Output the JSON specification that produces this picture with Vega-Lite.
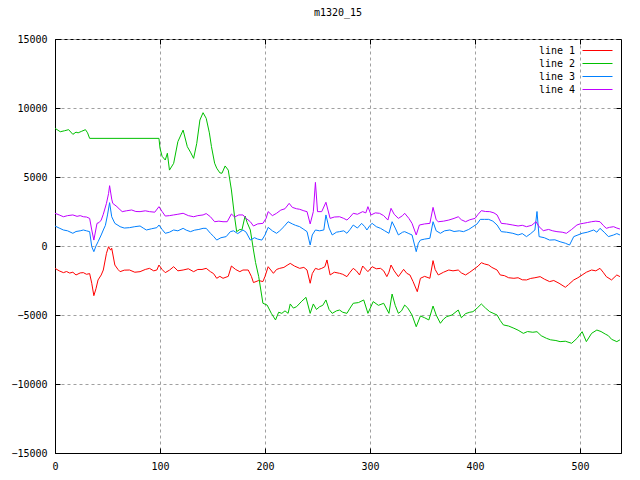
{
  "$schema": "https://vega.github.io/schema/vega-lite/v6.json",
  "width": 566,
  "height": 414,
  "autosize": {"type": "none"},
  "padding": {"left": 55, "top": 39, "right": 19, "bottom": 27},
  "background": "white",
  "title": {"text": "m1320_15", "fontSize": 10, "font": "DejaVu Sans Mono", "fontWeight": "normal", "color": "black", "offset": 16, "anchor": "middle"},
  "config": {
    "view": {"stroke": "black", "strokeWidth": 1},
    "font": "DejaVu Sans Mono",
    "axis": {"labelFont": "DejaVu Sans Mono", "labelFontSize": 10, "labelColor": "black", "domainColor": "black", "tickColor": "black", "gridColor": "#a0a0a0", "gridDash": [3, 3], "gridWidth": 1, "titleFontSize": 0}
  },
  "data": {"values": [
{"x":0,"s":"line 1","v":-1620},{"x":4,"s":"line 1","v":-1800},{"x":8,"s":"line 1","v":-1930},{"x":11,"s":"line 1","v":-1850},{"x":14,"s":"line 1","v":-1960},{"x":17,"s":"line 1","v":-1900},{"x":20,"s":"line 1","v":-2100},{"x":24,"s":"line 1","v":-1950},{"x":27,"s":"line 1","v":-1930},{"x":30,"s":"line 1","v":-2050},{"x":33,"s":"line 1","v":-2000},{"x":35,"s":"line 1","v":-2700},{"x":37,"s":"line 1","v":-3600},{"x":39,"s":"line 1","v":-3100},{"x":41,"s":"line 1","v":-2460},{"x":44,"s":"line 1","v":-2100},{"x":46,"s":"line 1","v":-1740},{"x":49,"s":"line 1","v":-530},{"x":51,"s":"line 1","v":-50},{"x":53,"s":"line 1","v":-300},{"x":54,"s":"line 1","v":-160},{"x":57,"s":"line 1","v":-1380},{"x":60,"s":"line 1","v":-1700},{"x":62,"s":"line 1","v":-1860},{"x":66,"s":"line 1","v":-1750},{"x":71,"s":"line 1","v":-1740},{"x":76,"s":"line 1","v":-1900},{"x":81,"s":"line 1","v":-1860},{"x":86,"s":"line 1","v":-1700},{"x":90,"s":"line 1","v":-1620},{"x":94,"s":"line 1","v":-1800},{"x":97,"s":"line 1","v":-1740},{"x":99,"s":"line 1","v":-1380},{"x":102,"s":"line 1","v":-1700},{"x":105,"s":"line 1","v":-1930},{"x":109,"s":"line 1","v":-1750},{"x":113,"s":"line 1","v":-1500},{"x":117,"s":"line 1","v":-1800},{"x":122,"s":"line 1","v":-1740},{"x":127,"s":"line 1","v":-1650},{"x":132,"s":"line 1","v":-1860},{"x":136,"s":"line 1","v":-1700},{"x":140,"s":"line 1","v":-1700},{"x":144,"s":"line 1","v":-1620},{"x":148,"s":"line 1","v":-1860},{"x":151,"s":"line 1","v":-2000},{"x":154,"s":"line 1","v":-2340},{"x":157,"s":"line 1","v":-2200},{"x":160,"s":"line 1","v":-2340},{"x":165,"s":"line 1","v":-2200},{"x":168,"s":"line 1","v":-1450},{"x":172,"s":"line 1","v":-1700},{"x":176,"s":"line 1","v":-1860},{"x":179,"s":"line 1","v":-1740},{"x":184,"s":"line 1","v":-1740},{"x":187,"s":"line 1","v":-2200},{"x":189,"s":"line 1","v":-2650},{"x":194,"s":"line 1","v":-2500},{"x":198,"s":"line 1","v":-2580},{"x":200,"s":"line 1","v":-2200},{"x":203,"s":"line 1","v":-1500},{"x":208,"s":"line 1","v":-1980},{"x":211,"s":"line 1","v":-1700},{"x":214,"s":"line 1","v":-1620},{"x":218,"s":"line 1","v":-1550},{"x":221,"s":"line 1","v":-1400},{"x":224,"s":"line 1","v":-1260},{"x":228,"s":"line 1","v":-1450},{"x":233,"s":"line 1","v":-1620},{"x":237,"s":"line 1","v":-1550},{"x":240,"s":"line 1","v":-1740},{"x":243,"s":"line 1","v":-2700},{"x":245,"s":"line 1","v":-2000},{"x":248,"s":"line 1","v":-1620},{"x":251,"s":"line 1","v":-1700},{"x":254,"s":"line 1","v":-1620},{"x":257,"s":"line 1","v":-1500},{"x":259,"s":"line 1","v":-1010},{"x":262,"s":"line 1","v":-2100},{"x":266,"s":"line 1","v":-1900},{"x":271,"s":"line 1","v":-1980},{"x":274,"s":"line 1","v":-2050},{"x":278,"s":"line 1","v":-2220},{"x":281,"s":"line 1","v":-1900},{"x":284,"s":"line 1","v":-1620},{"x":287,"s":"line 1","v":-1800},{"x":290,"s":"line 1","v":-2100},{"x":293,"s":"line 1","v":-1450},{"x":296,"s":"line 1","v":-1700},{"x":298,"s":"line 1","v":-1860},{"x":302,"s":"line 1","v":-1500},{"x":306,"s":"line 1","v":-1650},{"x":310,"s":"line 1","v":-1620},{"x":313,"s":"line 1","v":-1800},{"x":316,"s":"line 1","v":-2220},{"x":318,"s":"line 1","v":-1900},{"x":320,"s":"line 1","v":-1380},{"x":323,"s":"line 1","v":-1800},{"x":327,"s":"line 1","v":-2220},{"x":332,"s":"line 1","v":-1690},{"x":335,"s":"line 1","v":-1980},{"x":338,"s":"line 1","v":-2100},{"x":341,"s":"line 1","v":-2580},{"x":345,"s":"line 1","v":-3310},{"x":348,"s":"line 1","v":-2340},{"x":352,"s":"line 1","v":-2200},{"x":357,"s":"line 1","v":-2340},{"x":360,"s":"line 1","v":-1060},{"x":362,"s":"line 1","v":-1700},{"x":365,"s":"line 1","v":-2100},{"x":370,"s":"line 1","v":-1900},{"x":375,"s":"line 1","v":-1740},{"x":379,"s":"line 1","v":-1800},{"x":384,"s":"line 1","v":-1740},{"x":387,"s":"line 1","v":-1950},{"x":391,"s":"line 1","v":-2100},{"x":395,"s":"line 1","v":-1900},{"x":400,"s":"line 1","v":-1620},{"x":403,"s":"line 1","v":-1450},{"x":406,"s":"line 1","v":-1210},{"x":409,"s":"line 1","v":-1300},{"x":413,"s":"line 1","v":-1380},{"x":416,"s":"line 1","v":-1550},{"x":421,"s":"line 1","v":-1740},{"x":424,"s":"line 1","v":-2100},{"x":428,"s":"line 1","v":-2150},{"x":432,"s":"line 1","v":-2300},{"x":437,"s":"line 1","v":-2340},{"x":441,"s":"line 1","v":-2300},{"x":445,"s":"line 1","v":-2450},{"x":449,"s":"line 1","v":-2460},{"x":453,"s":"line 1","v":-2350},{"x":457,"s":"line 1","v":-2300},{"x":462,"s":"line 1","v":-2220},{"x":466,"s":"line 1","v":-2400},{"x":471,"s":"line 1","v":-2580},{"x":475,"s":"line 1","v":-2500},{"x":480,"s":"line 1","v":-2700},{"x":486,"s":"line 1","v":-2990},{"x":489,"s":"line 1","v":-2800},{"x":494,"s":"line 1","v":-2460},{"x":498,"s":"line 1","v":-2300},{"x":502,"s":"line 1","v":-2100},{"x":506,"s":"line 1","v":-1900},{"x":511,"s":"line 1","v":-1740},{"x":515,"s":"line 1","v":-1800},{"x":519,"s":"line 1","v":-1620},{"x":522,"s":"line 1","v":-1900},{"x":525,"s":"line 1","v":-2220},{"x":530,"s":"line 1","v":-2460},{"x":535,"s":"line 1","v":-2100},{"x":538,"s":"line 1","v":-2220},
{"x":0,"s":"line 2","v":8530},{"x":5,"s":"line 2","v":8280},{"x":9,"s":"line 2","v":8350},{"x":13,"s":"line 2","v":8430},{"x":17,"s":"line 2","v":8090},{"x":20,"s":"line 2","v":8250},{"x":22,"s":"line 2","v":8200},{"x":25,"s":"line 2","v":8300},{"x":29,"s":"line 2","v":8430},{"x":31,"s":"line 2","v":8200},{"x":33,"s":"line 2","v":7800},{"x":99,"s":"line 2","v":7800},{"x":100,"s":"line 2","v":7080},{"x":102,"s":"line 2","v":6500},{"x":105,"s":"line 2","v":6230},{"x":107,"s":"line 2","v":6720},{"x":109,"s":"line 2","v":5500},{"x":113,"s":"line 2","v":5990},{"x":117,"s":"line 2","v":7560},{"x":122,"s":"line 2","v":8400},{"x":126,"s":"line 2","v":7200},{"x":129,"s":"line 2","v":6800},{"x":132,"s":"line 2","v":6350},{"x":135,"s":"line 2","v":7440},{"x":138,"s":"line 2","v":9130},{"x":141,"s":"line 2","v":9660},{"x":144,"s":"line 2","v":9250},{"x":147,"s":"line 2","v":8200},{"x":149,"s":"line 2","v":7200},{"x":152,"s":"line 2","v":6000},{"x":154,"s":"line 2","v":5640},{"x":157,"s":"line 2","v":5300},{"x":159,"s":"line 2","v":5270},{"x":162,"s":"line 2","v":5800},{"x":165,"s":"line 2","v":5500},{"x":168,"s":"line 2","v":4060},{"x":171,"s":"line 2","v":2120},{"x":173,"s":"line 2","v":1040},{"x":176,"s":"line 2","v":1200},{"x":178,"s":"line 2","v":1160},{"x":181,"s":"line 2","v":2170},{"x":183,"s":"line 2","v":1700},{"x":186,"s":"line 2","v":1160},{"x":189,"s":"line 2","v":-290},{"x":191,"s":"line 2","v":-1200},{"x":194,"s":"line 2","v":-2220},{"x":198,"s":"line 2","v":-4150},{"x":202,"s":"line 2","v":-4280},{"x":206,"s":"line 2","v":-4880},{"x":210,"s":"line 2","v":-5360},{"x":213,"s":"line 2","v":-4800},{"x":216,"s":"line 2","v":-4880},{"x":219,"s":"line 2","v":-4700},{"x":222,"s":"line 2","v":-4880},{"x":224,"s":"line 2","v":-4200},{"x":227,"s":"line 2","v":-4500},{"x":230,"s":"line 2","v":-4400},{"x":235,"s":"line 2","v":-4000},{"x":239,"s":"line 2","v":-3720},{"x":243,"s":"line 2","v":-4880},{"x":246,"s":"line 2","v":-4200},{"x":249,"s":"line 2","v":-4600},{"x":252,"s":"line 2","v":-4400},{"x":255,"s":"line 2","v":-4300},{"x":258,"s":"line 2","v":-3910},{"x":261,"s":"line 2","v":-4600},{"x":264,"s":"line 2","v":-4880},{"x":268,"s":"line 2","v":-4700},{"x":271,"s":"line 2","v":-4640},{"x":274,"s":"line 2","v":-4800},{"x":278,"s":"line 2","v":-4880},{"x":281,"s":"line 2","v":-4500},{"x":284,"s":"line 2","v":-4150},{"x":289,"s":"line 2","v":-4100},{"x":294,"s":"line 2","v":-3910},{"x":298,"s":"line 2","v":-4880},{"x":303,"s":"line 2","v":-4030},{"x":308,"s":"line 2","v":-4300},{"x":313,"s":"line 2","v":-4150},{"x":318,"s":"line 2","v":-4880},{"x":321,"s":"line 2","v":-3480},{"x":324,"s":"line 2","v":-4300},{"x":327,"s":"line 2","v":-4880},{"x":330,"s":"line 2","v":-4700},{"x":333,"s":"line 2","v":-4280},{"x":336,"s":"line 2","v":-4500},{"x":340,"s":"line 2","v":-5000},{"x":344,"s":"line 2","v":-5850},{"x":348,"s":"line 2","v":-5070},{"x":352,"s":"line 2","v":-5200},{"x":356,"s":"line 2","v":-5360},{"x":360,"s":"line 2","v":-4350},{"x":363,"s":"line 2","v":-5000},{"x":367,"s":"line 2","v":-5600},{"x":370,"s":"line 2","v":-5300},{"x":373,"s":"line 2","v":-5120},{"x":378,"s":"line 2","v":-5000},{"x":384,"s":"line 2","v":-4640},{"x":387,"s":"line 2","v":-5200},{"x":391,"s":"line 2","v":-4900},{"x":395,"s":"line 2","v":-4800},{"x":398,"s":"line 2","v":-4760},{"x":402,"s":"line 2","v":-4500},{"x":406,"s":"line 2","v":-4200},{"x":410,"s":"line 2","v":-4500},{"x":414,"s":"line 2","v":-4760},{"x":418,"s":"line 2","v":-4900},{"x":421,"s":"line 2","v":-5000},{"x":424,"s":"line 2","v":-5400},{"x":427,"s":"line 2","v":-5720},{"x":432,"s":"line 2","v":-5800},{"x":437,"s":"line 2","v":-5960},{"x":441,"s":"line 2","v":-6100},{"x":446,"s":"line 2","v":-6330},{"x":450,"s":"line 2","v":-6200},{"x":455,"s":"line 2","v":-6250},{"x":459,"s":"line 2","v":-6210},{"x":463,"s":"line 2","v":-6500},{"x":468,"s":"line 2","v":-6690},{"x":472,"s":"line 2","v":-6800},{"x":477,"s":"line 2","v":-6850},{"x":481,"s":"line 2","v":-6930},{"x":486,"s":"line 2","v":-6900},{"x":492,"s":"line 2","v":-7050},{"x":497,"s":"line 2","v":-6700},{"x":502,"s":"line 2","v":-6210},{"x":506,"s":"line 2","v":-6930},{"x":511,"s":"line 2","v":-6330},{"x":516,"s":"line 2","v":-6090},{"x":520,"s":"line 2","v":-6200},{"x":524,"s":"line 2","v":-6380},{"x":527,"s":"line 2","v":-6500},{"x":530,"s":"line 2","v":-6760},{"x":535,"s":"line 2","v":-6930},{"x":538,"s":"line 2","v":-6800},
{"x":0,"s":"line 3","v":1450},{"x":4,"s":"line 3","v":1300},{"x":8,"s":"line 3","v":1160},{"x":12,"s":"line 3","v":1100},{"x":17,"s":"line 3","v":920},{"x":20,"s":"line 3","v":1050},{"x":24,"s":"line 3","v":1100},{"x":27,"s":"line 3","v":1160},{"x":30,"s":"line 3","v":1100},{"x":33,"s":"line 3","v":1040},{"x":35,"s":"line 3","v":-50},{"x":37,"s":"line 3","v":-410},{"x":39,"s":"line 3","v":0},{"x":41,"s":"line 3","v":310},{"x":44,"s":"line 3","v":800},{"x":46,"s":"line 3","v":1160},{"x":48,"s":"line 3","v":1500},{"x":50,"s":"line 3","v":2250},{"x":52,"s":"line 3","v":3140},{"x":54,"s":"line 3","v":2120},{"x":57,"s":"line 3","v":1640},{"x":60,"s":"line 3","v":1500},{"x":62,"s":"line 3","v":1400},{"x":66,"s":"line 3","v":1300},{"x":71,"s":"line 3","v":1330},{"x":76,"s":"line 3","v":1400},{"x":81,"s":"line 3","v":1450},{"x":84,"s":"line 3","v":1300},{"x":87,"s":"line 3","v":1160},{"x":92,"s":"line 3","v":1250},{"x":97,"s":"line 3","v":1330},{"x":99,"s":"line 3","v":1520},{"x":102,"s":"line 3","v":1200},{"x":105,"s":"line 3","v":920},{"x":109,"s":"line 3","v":1000},{"x":113,"s":"line 3","v":1160},{"x":117,"s":"line 3","v":1100},{"x":122,"s":"line 3","v":1280},{"x":125,"s":"line 3","v":1150},{"x":129,"s":"line 3","v":1040},{"x":133,"s":"line 3","v":1150},{"x":137,"s":"line 3","v":1200},{"x":141,"s":"line 3","v":1280},{"x":144,"s":"line 3","v":1280},{"x":148,"s":"line 3","v":920},{"x":151,"s":"line 3","v":700},{"x":154,"s":"line 3","v":430},{"x":158,"s":"line 3","v":600},{"x":163,"s":"line 3","v":680},{"x":167,"s":"line 3","v":1040},{"x":170,"s":"line 3","v":1100},{"x":174,"s":"line 3","v":900},{"x":179,"s":"line 3","v":1160},{"x":182,"s":"line 3","v":1000},{"x":186,"s":"line 3","v":430},{"x":190,"s":"line 3","v":600},{"x":193,"s":"line 3","v":500},{"x":197,"s":"line 3","v":430},{"x":200,"s":"line 3","v":800},{"x":203,"s":"line 3","v":1350},{"x":207,"s":"line 3","v":1100},{"x":211,"s":"line 3","v":920},{"x":214,"s":"line 3","v":1100},{"x":218,"s":"line 3","v":1400},{"x":222,"s":"line 3","v":1760},{"x":226,"s":"line 3","v":1600},{"x":229,"s":"line 3","v":1500},{"x":233,"s":"line 3","v":1400},{"x":237,"s":"line 3","v":1200},{"x":240,"s":"line 3","v":1040},{"x":243,"s":"line 3","v":70},{"x":245,"s":"line 3","v":800},{"x":248,"s":"line 3","v":1160},{"x":252,"s":"line 3","v":1100},{"x":256,"s":"line 3","v":1160},{"x":258,"s":"line 3","v":2250},{"x":261,"s":"line 3","v":1300},{"x":264,"s":"line 3","v":800},{"x":268,"s":"line 3","v":1000},{"x":271,"s":"line 3","v":1040},{"x":275,"s":"line 3","v":1100},{"x":278,"s":"line 3","v":920},{"x":281,"s":"line 3","v":1200},{"x":284,"s":"line 3","v":1520},{"x":288,"s":"line 3","v":1300},{"x":292,"s":"line 3","v":1640},{"x":295,"s":"line 3","v":1400},{"x":297,"s":"line 3","v":1160},{"x":300,"s":"line 3","v":1500},{"x":302,"s":"line 3","v":1640},{"x":306,"s":"line 3","v":1400},{"x":310,"s":"line 3","v":1280},{"x":314,"s":"line 3","v":1100},{"x":318,"s":"line 3","v":920},{"x":321,"s":"line 3","v":1760},{"x":324,"s":"line 3","v":1300},{"x":327,"s":"line 3","v":800},{"x":331,"s":"line 3","v":1000},{"x":333,"s":"line 3","v":1040},{"x":337,"s":"line 3","v":900},{"x":340,"s":"line 3","v":800},{"x":344,"s":"line 3","v":-410},{"x":346,"s":"line 3","v":200},{"x":348,"s":"line 3","v":430},{"x":352,"s":"line 3","v":500},{"x":357,"s":"line 3","v":560},{"x":360,"s":"line 3","v":1760},{"x":363,"s":"line 3","v":1100},{"x":367,"s":"line 3","v":920},{"x":371,"s":"line 3","v":1100},{"x":376,"s":"line 3","v":1160},{"x":380,"s":"line 3","v":1050},{"x":385,"s":"line 3","v":1100},{"x":389,"s":"line 3","v":1040},{"x":394,"s":"line 3","v":1200},{"x":398,"s":"line 3","v":1400},{"x":402,"s":"line 3","v":1600},{"x":405,"s":"line 3","v":1930},{"x":409,"s":"line 3","v":1930},{"x":413,"s":"line 3","v":1930},{"x":417,"s":"line 3","v":1800},{"x":421,"s":"line 3","v":1520},{"x":425,"s":"line 3","v":1040},{"x":430,"s":"line 3","v":1000},{"x":436,"s":"line 3","v":920},{"x":441,"s":"line 3","v":800},{"x":445,"s":"line 3","v":900},{"x":449,"s":"line 3","v":680},{"x":453,"s":"line 3","v":900},{"x":457,"s":"line 3","v":1160},{"x":459,"s":"line 3","v":2500},{"x":461,"s":"line 3","v":680},{"x":466,"s":"line 3","v":600},{"x":471,"s":"line 3","v":430},{"x":476,"s":"line 3","v":450},{"x":481,"s":"line 3","v":310},{"x":486,"s":"line 3","v":200},{"x":490,"s":"line 3","v":70},{"x":494,"s":"line 3","v":680},{"x":498,"s":"line 3","v":800},{"x":502,"s":"line 3","v":920},{"x":507,"s":"line 3","v":1000},{"x":513,"s":"line 3","v":1160},{"x":516,"s":"line 3","v":1000},{"x":519,"s":"line 3","v":1280},{"x":523,"s":"line 3","v":1000},{"x":527,"s":"line 3","v":680},{"x":532,"s":"line 3","v":800},{"x":535,"s":"line 3","v":900},{"x":538,"s":"line 3","v":800},
{"x":0,"s":"line 4","v":2370},{"x":4,"s":"line 4","v":2250},{"x":8,"s":"line 4","v":2120},{"x":12,"s":"line 4","v":2200},{"x":17,"s":"line 4","v":2250},{"x":21,"s":"line 4","v":2150},{"x":24,"s":"line 4","v":2200},{"x":27,"s":"line 4","v":2120},{"x":30,"s":"line 4","v":2100},{"x":33,"s":"line 4","v":2000},{"x":35,"s":"line 4","v":1160},{"x":37,"s":"line 4","v":430},{"x":40,"s":"line 4","v":1640},{"x":42,"s":"line 4","v":1700},{"x":44,"s":"line 4","v":1880},{"x":46,"s":"line 4","v":2300},{"x":49,"s":"line 4","v":3090},{"x":51,"s":"line 4","v":3800},{"x":52,"s":"line 4","v":4370},{"x":54,"s":"line 4","v":3400},{"x":55,"s":"line 4","v":3090},{"x":59,"s":"line 4","v":2850},{"x":61,"s":"line 4","v":2700},{"x":64,"s":"line 4","v":2490},{"x":68,"s":"line 4","v":2550},{"x":73,"s":"line 4","v":2610},{"x":77,"s":"line 4","v":2500},{"x":81,"s":"line 4","v":2490},{"x":86,"s":"line 4","v":2550},{"x":90,"s":"line 4","v":2490},{"x":95,"s":"line 4","v":2450},{"x":99,"s":"line 4","v":2850},{"x":102,"s":"line 4","v":2500},{"x":105,"s":"line 4","v":2170},{"x":109,"s":"line 4","v":2200},{"x":113,"s":"line 4","v":2250},{"x":117,"s":"line 4","v":2300},{"x":122,"s":"line 4","v":2370},{"x":127,"s":"line 4","v":2200},{"x":132,"s":"line 4","v":2120},{"x":136,"s":"line 4","v":2200},{"x":141,"s":"line 4","v":2250},{"x":144,"s":"line 4","v":2350},{"x":148,"s":"line 4","v":2120},{"x":152,"s":"line 4","v":1760},{"x":156,"s":"line 4","v":1800},{"x":160,"s":"line 4","v":1760},{"x":164,"s":"line 4","v":1760},{"x":168,"s":"line 4","v":2320},{"x":171,"s":"line 4","v":2100},{"x":175,"s":"line 4","v":2250},{"x":179,"s":"line 4","v":2250},{"x":182,"s":"line 4","v":2000},{"x":186,"s":"line 4","v":1760},{"x":189,"s":"line 4","v":1450},{"x":193,"s":"line 4","v":1600},{"x":198,"s":"line 4","v":1640},{"x":201,"s":"line 4","v":2000},{"x":203,"s":"line 4","v":2490},{"x":207,"s":"line 4","v":2200},{"x":211,"s":"line 4","v":2370},{"x":215,"s":"line 4","v":2600},{"x":219,"s":"line 4","v":2700},{"x":223,"s":"line 4","v":3090},{"x":226,"s":"line 4","v":2800},{"x":230,"s":"line 4","v":2700},{"x":233,"s":"line 4","v":2660},{"x":237,"s":"line 4","v":2550},{"x":240,"s":"line 4","v":2490},{"x":243,"s":"line 4","v":1600},{"x":246,"s":"line 4","v":2490},{"x":248,"s":"line 4","v":4610},{"x":250,"s":"line 4","v":2490},{"x":254,"s":"line 4","v":2490},{"x":258,"s":"line 4","v":3170},{"x":262,"s":"line 4","v":2000},{"x":266,"s":"line 4","v":2100},{"x":271,"s":"line 4","v":2120},{"x":275,"s":"line 4","v":2000},{"x":278,"s":"line 4","v":1880},{"x":281,"s":"line 4","v":2100},{"x":284,"s":"line 4","v":2370},{"x":288,"s":"line 4","v":2300},{"x":293,"s":"line 4","v":2490},{"x":296,"s":"line 4","v":2400},{"x":298,"s":"line 4","v":2850},{"x":301,"s":"line 4","v":2250},{"x":305,"s":"line 4","v":2400},{"x":309,"s":"line 4","v":2370},{"x":313,"s":"line 4","v":2200},{"x":317,"s":"line 4","v":1880},{"x":320,"s":"line 4","v":2730},{"x":323,"s":"line 4","v":2300},{"x":327,"s":"line 4","v":2000},{"x":331,"s":"line 4","v":2200},{"x":333,"s":"line 4","v":2370},{"x":337,"s":"line 4","v":2000},{"x":340,"s":"line 4","v":1640},{"x":344,"s":"line 4","v":800},{"x":347,"s":"line 4","v":1520},{"x":352,"s":"line 4","v":1600},{"x":357,"s":"line 4","v":1640},{"x":360,"s":"line 4","v":2800},{"x":363,"s":"line 4","v":1900},{"x":365,"s":"line 4","v":1760},{"x":370,"s":"line 4","v":1800},{"x":375,"s":"line 4","v":1880},{"x":380,"s":"line 4","v":2000},{"x":384,"s":"line 4","v":2120},{"x":387,"s":"line 4","v":1900},{"x":391,"s":"line 4","v":1760},{"x":395,"s":"line 4","v":1900},{"x":400,"s":"line 4","v":2000},{"x":403,"s":"line 4","v":2300},{"x":406,"s":"line 4","v":2560},{"x":410,"s":"line 4","v":2500},{"x":414,"s":"line 4","v":2490},{"x":418,"s":"line 4","v":2400},{"x":421,"s":"line 4","v":2250},{"x":425,"s":"line 4","v":1640},{"x":430,"s":"line 4","v":1600},{"x":436,"s":"line 4","v":1520},{"x":441,"s":"line 4","v":1450},{"x":445,"s":"line 4","v":1500},{"x":449,"s":"line 4","v":1400},{"x":454,"s":"line 4","v":1500},{"x":458,"s":"line 4","v":1760},{"x":461,"s":"line 4","v":1400},{"x":465,"s":"line 4","v":1110},{"x":470,"s":"line 4","v":1200},{"x":474,"s":"line 4","v":1100},{"x":478,"s":"line 4","v":1040},{"x":483,"s":"line 4","v":1000},{"x":487,"s":"line 4","v":920},{"x":492,"s":"line 4","v":1200},{"x":497,"s":"line 4","v":1520},{"x":500,"s":"line 4","v":1600},{"x":503,"s":"line 4","v":1640},{"x":507,"s":"line 4","v":1700},{"x":511,"s":"line 4","v":1760},{"x":515,"s":"line 4","v":1800},{"x":519,"s":"line 4","v":1760},{"x":522,"s":"line 4","v":1500},{"x":525,"s":"line 4","v":1280},{"x":528,"s":"line 4","v":1350},{"x":532,"s":"line 4","v":1400},{"x":535,"s":"line 4","v":1300},{"x":538,"s":"line 4","v":1230}
  ]},
  "encoding": {
    "x": {"field": "x", "type": "quantitative", "scale": {"domain": [0, 539], "nice": false, "zero": false}},
    "y": {"field": "v", "type": "quantitative", "scale": {"domain": [-15000, 15000], "nice": false}}
  },
  "layer": [
    {
      "mark": {"type": "line", "strokeWidth": 1, "interpolate": "linear"},
      "encoding": {
        "x": {"field": "x", "type": "quantitative",
          "axis": {"orient": "bottom", "title": null, "values": [0, 100, 200, 300, 400, 500], "grid": true, "ticks": true, "tickSize": -5, "labelPadding": 13, "domain": true, "labelFlush": false}},
        "y": {"field": "v", "type": "quantitative",
          "axis": {"orient": "left", "title": null, "values": [-15000, -10000, -5000, 0, 5000, 10000, 15000], "grid": true, "ticks": true, "tickSize": -5, "labelPadding": 13, "domain": true, "format": "d", "labelFlush": false}},
        "color": {"field": "s", "type": "nominal",
          "scale": {"domain": ["line 1", "line 2", "line 3", "line 4"], "range": ["#ff0000", "#00c000", "#0080ff", "#c000ff"]},
          "legend": {"title": null, "orient": "top-right", "offset": 6, "symbolType": "M-3,0H3", "symbolSize": 100, "symbolStrokeWidth": 1, "symbolOpacity": 1, "symbolFillColor": "transparent", "labelAlign": "right", "labelOffset": -28, "labelFont": "DejaVu Sans Mono", "labelFontSize": 10, "labelColor": "black", "rowPadding": 2, "padding": 0}}
      }
    },
    {
      "mark": {"type": "point", "opacity": 0},
      "encoding": {
        "x": {"field": "x", "type": "quantitative", "axis": {"orient": "top", "title": null, "values": [0, 100, 200, 300, 400, 500], "grid": false, "labels": false, "ticks": true, "tickSize": -5, "domain": false}},
        "y": {"field": "v", "type": "quantitative", "axis": {"orient": "right", "title": null, "values": [-15000, -10000, -5000, 0, 5000, 10000, 15000], "grid": false, "labels": false, "ticks": true, "tickSize": -5, "domain": false}}
      }
    }
  ]
}
